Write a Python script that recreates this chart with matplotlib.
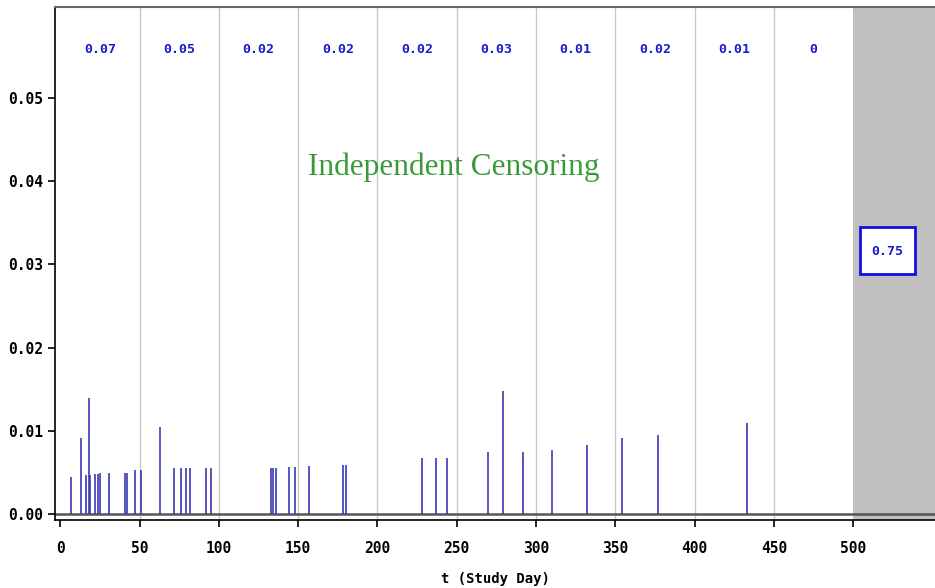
import numpy as np
import matplotlib.pyplot as plt
from matplotlib.patches import Rectangle

# event days and hazard increments
event_days = [7, 13, 16, 18, 19, 22, 24, 25, 31, 41, 42, 47, 51, 63,
              72, 76, 79, 82, 92, 95, 133, 134, 136, 144, 148, 157,
              178, 180, 228, 237, 244, 270, 279, 292, 310, 332, 354,
              377, 433]
hazard = [0.0045, 0.0092, 0.0047, 0.0139, 0.0047, 0.0048, 0.0048, 0.0049,
          0.0050, 0.0050, 0.0050, 0.0053, 0.0053, 0.0105, 0.0055, 0.0055,
          0.0055, 0.0055, 0.0055, 0.0055, 0.0056, 0.0056, 0.0056, 0.0057,
          0.0057, 0.0058, 0.0059, 0.0059, 0.0068, 0.0068, 0.0068, 0.0075,
          0.0148, 0.0075, 0.0077, 0.0083, 0.0091, 0.0095, 0.0110]

# interval sums shown along the top
interval_starts = [0, 50, 100, 150, 200, 250, 300, 350, 400, 450]
interval_labels = ["0.07", "0.05", "0.02", "0.02", "0.02", "0.03",
                   "0.01", "0.02", "0.01", "0"]
tail_start = 500
tail_label = "0.75"

xticks = [0, 50, 100, 150, 200, 250, 300, 350, 400, 450, 500]
yticks = [0.00, 0.01, 0.02, 0.03, 0.04, 0.05]

fig = plt.figure(figsize=(9.35, 5.88), dpi=100)
ax = fig.add_axes([55/935, 1 - 520/588, 880/935, 513/588])

xmax = 551.6
ax.set_xlim(-3.3, xmax)
ax.set_ylim(-0.0007, 0.0609)

# grid lines between intervals
for x in interval_starts[1:]:
    ax.axvline(x, color="#c8c8c8", lw=1.0, zorder=0)

# shaded tail
ax.axvspan(tail_start, xmax, color="#c0c0c0", lw=0, zorder=0)

# reference line at zero
ax.axhline(0, color="#555555", lw=1.8, zorder=1)

# event spikes
ax.vlines(event_days, 0, hazard, color="#3a3ab4", lw=1.2, zorder=2)

# interval labels
mono = dict(family="DejaVu Sans Mono", weight="bold", size=9.5)
for s, lab in zip(interval_starts, interval_labels):
    ax.text(s + 25, 0.0558, lab, color="#1a1acc", ha="center", va="center",
            **mono)

# tail box
ax.add_patch(Rectangle((tail_start + 4.5, 0.0288), 34.5, 0.0057,
                       fc="white", ec="#1010e0", lw=2, zorder=3))
ax.text(tail_start + 21.7, 0.0316, tail_label, color="#1a1acc",
        ha="center", va="center", zorder=4, **mono)

ax.text(248, 0.0417, "Independent Censoring", color="#3a9a3a",
        family="Liberation Serif", size=22.5, ha="center", va="center")

tick_font = dict(family="DejaVu Sans Mono", weight="bold", size=10.5)
ax.set_xticks(xticks)
ax.set_xticklabels([str(v) for v in xticks], **tick_font)
ax.set_yticks(yticks)
ax.set_yticklabels([f"{v:.2f}" for v in yticks], **tick_font)
ax.tick_params(direction="out", length=5, width=1.2, color="black")
ax.tick_params(axis="x", pad=10)
ax.set_xlabel("t (Study Day)", labelpad=12, family="DejaVu Sans Mono",
              weight="bold", size=10)

ax.spines["right"].set_visible(False)
ax.spines["top"].set_color("#666666")
ax.spines["top"].set_linewidth(1.5)
ax.spines["left"].set_linewidth(1.2)
ax.spines["bottom"].set_linewidth(1.2)

plt.savefig("out.png", dpi=100)
